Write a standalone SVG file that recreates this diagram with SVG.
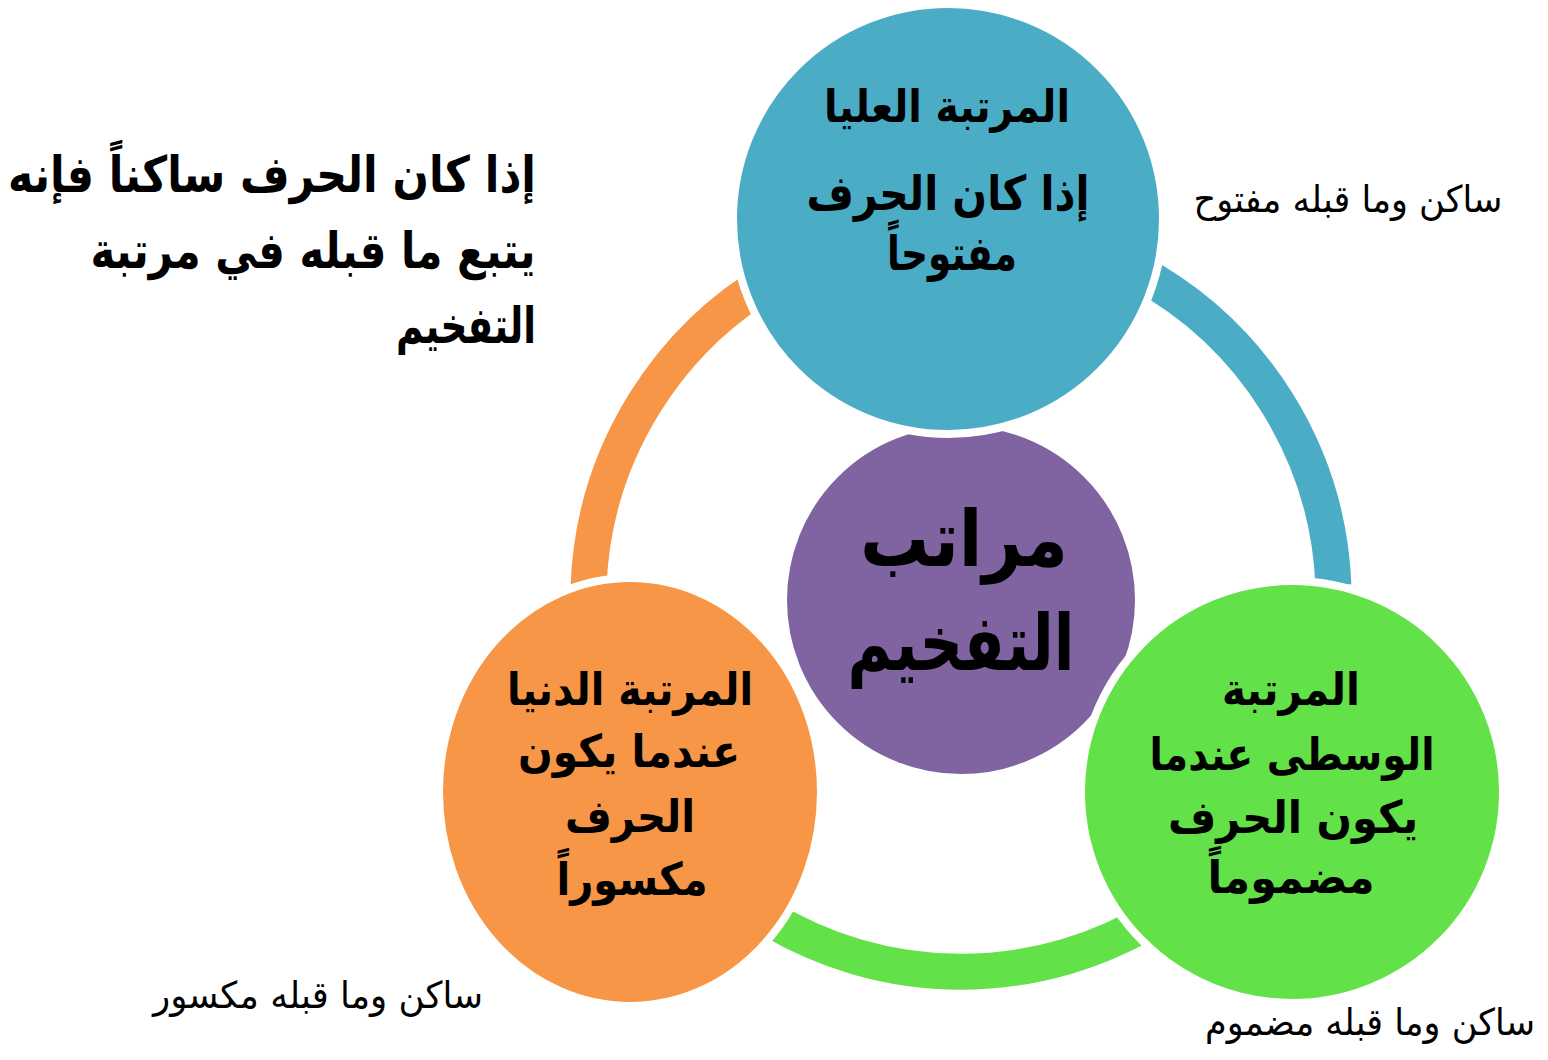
<svg xmlns="http://www.w3.org/2000/svg" width="1548" height="1060" viewBox="0 0 1548 1060">
<style>
.b{font-family:'DejaVu Sans',sans-serif;font-weight:bold;fill:#000;text-anchor:middle}
.n{font-family:'DejaVu Sans',sans-serif;font-weight:normal;fill:#000;text-anchor:middle;font-size:37px}
.node{stroke:#fff;stroke-width:8}
.arc{fill:none;stroke-width:36}
</style>
<rect width="1548" height="1060" fill="#fff"/>
<g id="connectors">
<path class="arc" stroke="#F79646" d="M 588.6 585.0 A 373 373 0 0 1 784.0 272.0"/>
<path class="arc" stroke="#4BACC6" d="M 1138.0 272.0 A 373 373 0 0 1 1333.4 585.0"/>
<path class="arc" stroke="#62E148" d="M 1283.0 787.0 A 373 373 0 0 1 639.0 787.0"/>
</g>
<g id="center">
<circle cx="961" cy="600" r="178" fill="#8064A2" class="node"/>
<text class="b" x="964" y="566" font-size="78" textLength="208" lengthAdjust="spacingAndGlyphs">مراتب</text>
<text class="b" x="961" y="670" font-size="78" textLength="227" lengthAdjust="spacingAndGlyphs">التفخيم</text>
</g>
<g id="top">
<ellipse cx="948" cy="219" rx="215" ry="215" fill="#4BACC6" class="node"/>
<text class="b" x="947" y="122" font-size="45" textLength="246" lengthAdjust="spacingAndGlyphs">المرتبة العليا</text>
<text class="b" x="948" y="210" font-size="48" textLength="283" lengthAdjust="spacingAndGlyphs">إذا كان الحرف</text>
<text class="b" x="952" y="270" font-size="48" textLength="130" lengthAdjust="spacingAndGlyphs">مفتوحاً</text>
</g>
<g id="left">
<ellipse cx="630" cy="792" rx="191" ry="214" fill="#F79646" class="node"/>
<text class="b" x="630" y="705" font-size="45" textLength="246" lengthAdjust="spacingAndGlyphs">المرتبة الدنيا</text>
<text class="b" x="629" y="767" font-size="45" textLength="222" lengthAdjust="spacingAndGlyphs">عندما يكون</text>
<text class="b" x="630" y="832" font-size="45" textLength="130" lengthAdjust="spacingAndGlyphs">الحرف</text>
<text class="b" x="632" y="895" font-size="45" textLength="151" lengthAdjust="spacingAndGlyphs">مكسوراً</text>
</g>
<g id="right">
<ellipse cx="1292" cy="792" rx="211" ry="211" fill="#62E148" class="node"/>
<text class="b" x="1291" y="705" font-size="45" textLength="138" lengthAdjust="spacingAndGlyphs">المرتبة</text>
<text class="b" x="1292" y="770" font-size="45" textLength="285" lengthAdjust="spacingAndGlyphs">الوسطى عندما</text>
<text class="b" x="1293" y="833" font-size="45" textLength="250" lengthAdjust="spacingAndGlyphs">يكون الحرف</text>
<text class="b" x="1291" y="893" font-size="45" textLength="167" lengthAdjust="spacingAndGlyphs">مضموماً</text>
</g>
<g id="notes">
<text class="n" x="1348" y="212" textLength="309" lengthAdjust="spacingAndGlyphs">ساكن وما قبله مفتوح</text>
<text class="n" x="318" y="1008" textLength="330" lengthAdjust="spacingAndGlyphs">ساكن وما قبله مكسور</text>
<text class="n" x="1370" y="1035" font-size="34" textLength="330" lengthAdjust="spacingAndGlyphs">ساكن وما قبله مضموم</text>
</g>
<g id="rule">
<text class="b" x="272" y="192" font-size="50" textLength="528" lengthAdjust="spacingAndGlyphs">إذا كان الحرف ساكناً فإنه</text>
<text class="b" x="313" y="268" font-size="50" textLength="445" lengthAdjust="spacingAndGlyphs">يتبع ما قبله في مرتبة</text>
<text class="b" x="466" y="343" font-size="50" textLength="140" lengthAdjust="spacingAndGlyphs">التفخيم</text>
</g>
</svg>
